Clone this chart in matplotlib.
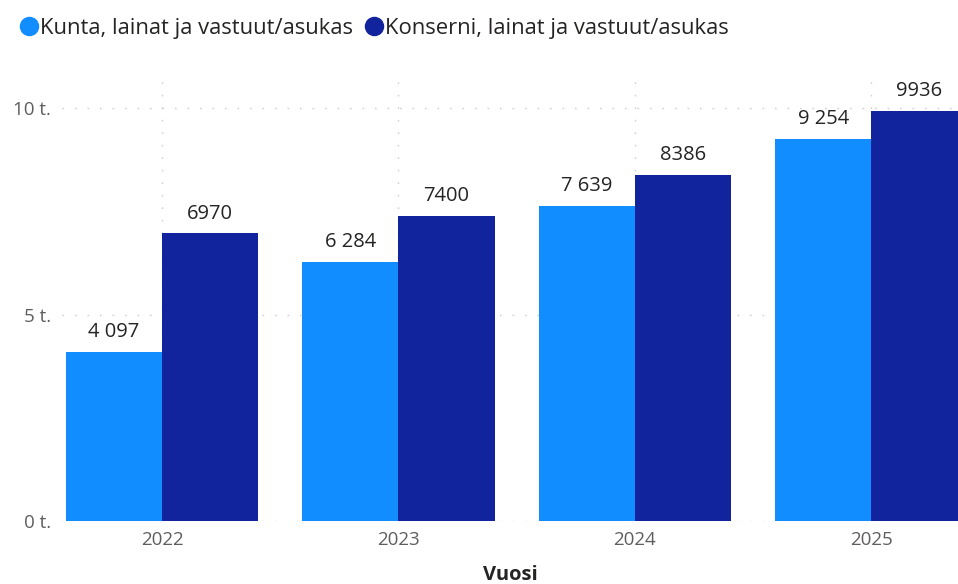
import numpy as np
import matplotlib.pyplot as plt
from matplotlib.lines import Line2D
from matplotlib.ticker import FixedLocator

years = ["2022", "2023", "2024", "2025"]
kunta = [4097, 6284, 7639, 9254]
konserni = [6970, 7400, 8386, 9936]
kunta_labels = ["4 097", "6 284", "7 639", "9 254"]
konserni_labels = ["6970", "7400", "8386", "9936"]
y_ticks = [0, 5000, 10000]
y_tick_labels = ["0 t.", "5 t.", "10 t."]

light = "#118DFF"
dark = "#12239E"
plt.rcParams['font.family'] = ['Open Sans', 'DejaVu Sans']

fig = plt.figure(figsize=(9.58, 5.84), dpi=100)
ax = fig.add_axes([0.0647, 0.1079, 0.9353, 0.7705])

x = np.arange(len(years))
w = 0.406
b1 = ax.bar(x - w / 2, kunta, w, color=light, zorder=3)
b2 = ax.bar(x + w / 2, konserni, w, color=dark, zorder=3)

# arvot palkkien päälle
for rect, lab in zip(b1, kunta_labels):
    ax.text(rect.get_x() + rect.get_width() / 2, rect.get_height() + 230, lab,
            ha="center", va="bottom", fontsize=14.5, color="#252423", zorder=4)
for rect, lab in zip(b2, konserni_labels):
    ax.text(rect.get_x() + rect.get_width() / 2, rect.get_height() + 230, lab,
            ha="center", va="bottom", fontsize=14.5, color="#252423", zorder=4)

ax.set_xlim(-0.423, 3.366)
ax.set_ylim(0, 10900)
ax.set_xticks(x)
ax.set_xticklabels(years)
ax.yaxis.set_major_locator(FixedLocator(y_ticks))
ax.set_yticklabels(y_tick_labels)
ax.tick_params(length=0, labelsize=13.5, colors="#605E5C", pad=7)
ax.tick_params(axis="y", pad=8)

ax.grid(True, linestyle=(0, (1.2, 7.8)), color="#D2D0CE", linewidth=1.0, zorder=0)
for s in ax.spines.values():
    s.set_visible(False)

ax.set_xlabel("Vuosi", fontsize=14.5, fontweight="bold", color="#252423", labelpad=12)

handles = [Line2D([], [], marker="o", linestyle="", markersize=13, color=light),
           Line2D([], [], marker="o", linestyle="", markersize=13, color=dark)]
fig.legend(handles, ["Kunta, lainat ja vastuut/asukas", "Konserni, lainat ja vastuut/asukas"],
           loc="upper left", bbox_to_anchor=(0.0, 1.0), ncol=2, frameon=False,
           fontsize=15.8, handletextpad=0.0, columnspacing=0.5, handlelength=1.0,
           borderaxespad=0.4, labelcolor="#252423")

fig.savefig("out.png", dpi=100)
